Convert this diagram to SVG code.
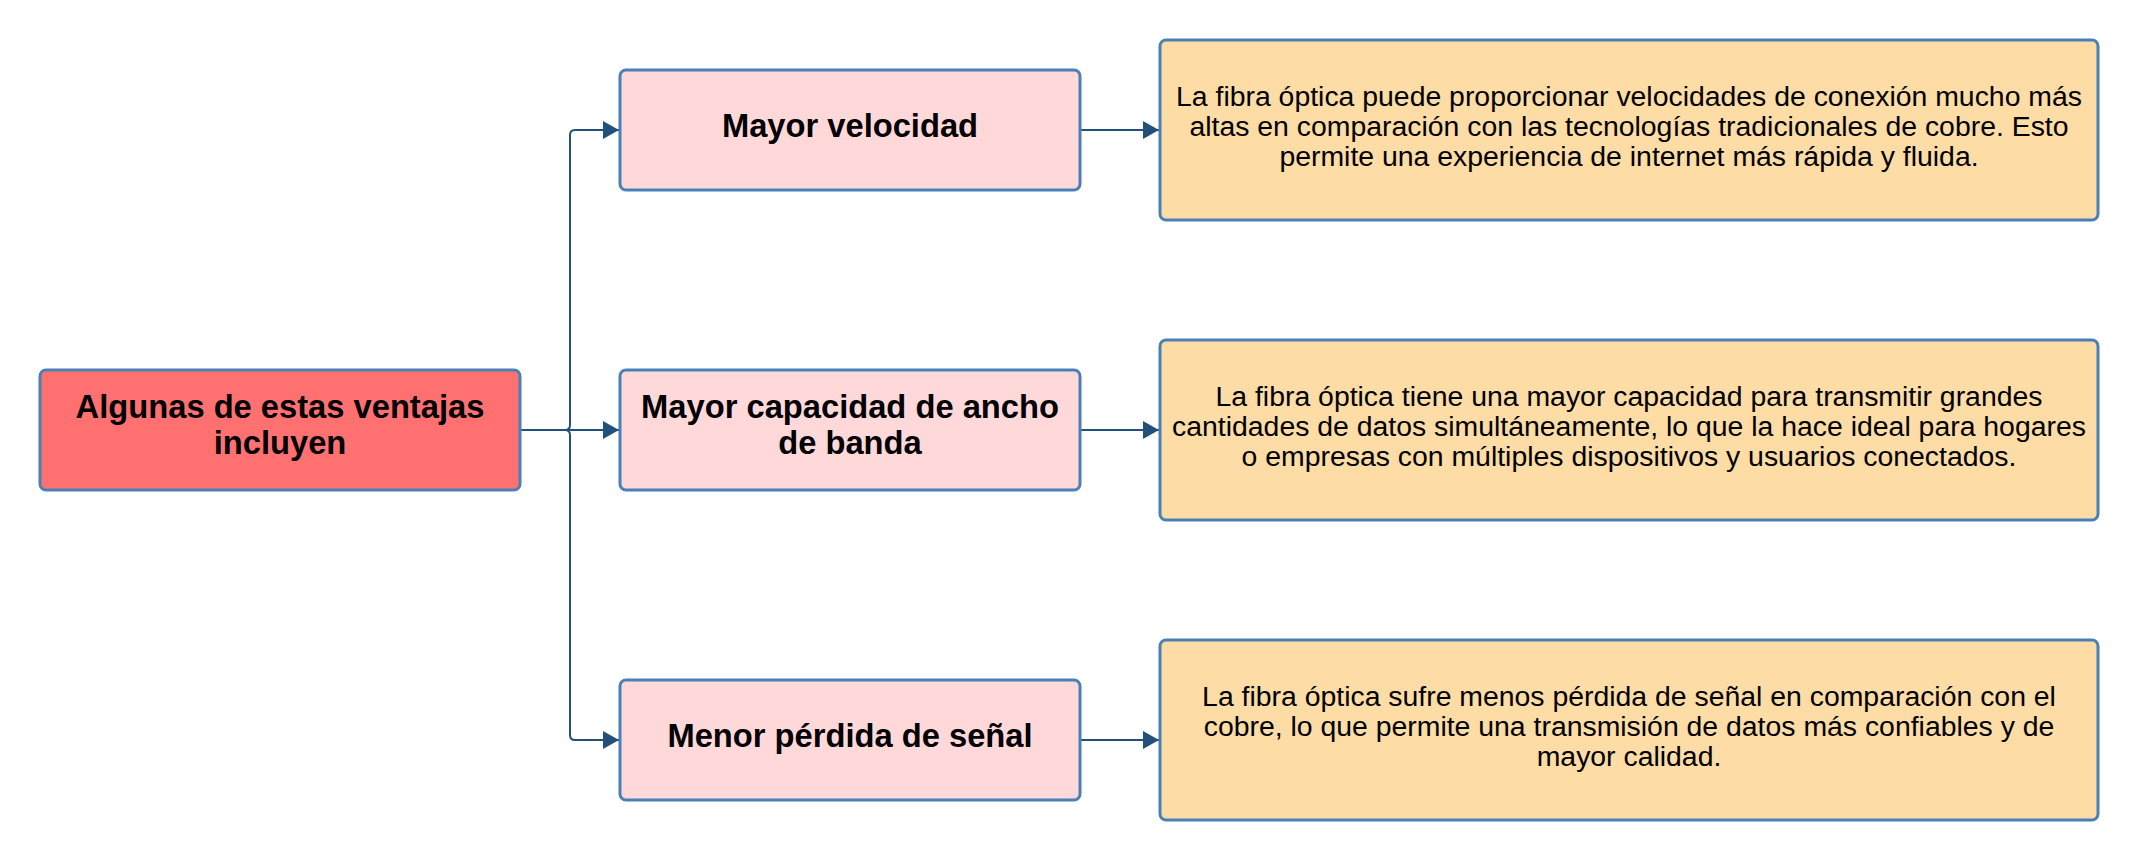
<svg xmlns="http://www.w3.org/2000/svg" width="2139" height="861" viewBox="0 0 2139 861">
<style>
.box{stroke:#4a80b5;stroke-width:3}
.main{fill:#ff7171}
.mid{fill:#ffd9d9}
.det{fill:#fddca6}
.b{font-family:"Liberation Sans",Arial,sans-serif;font-weight:bold;font-size:32.7px;fill:#000;text-anchor:middle}
.t{font-family:"Liberation Sans",Arial,sans-serif;font-size:28.4px;fill:#000;text-anchor:middle}
.c{fill:none;stroke:#23507a;stroke-width:2}
</style>
<defs>
<marker id="ah" markerUnits="userSpaceOnUse" markerWidth="18" markerHeight="20" refX="16" refY="9" orient="auto">
<path d="M0,0 L16,9 L0,18 Z" fill="#23507a"/>
</marker>
</defs>
<rect width="2139" height="861" fill="#ffffff"/>
<g id="connectors">
<path class="c" d="M520,430 H565 Q570,430 570,425 V135 Q570,130 575,130 H619" marker-end="url(#ah)"/>
<path class="c" d="M520,430 H619" marker-end="url(#ah)"/>
<path class="c" d="M520,430 H565 Q570,430 570,435 V735 Q570,740 575,740 H619" marker-end="url(#ah)"/>
<path class="c" d="M1080,130 H1159" marker-end="url(#ah)"/>
<path class="c" d="M1080,430 H1159" marker-end="url(#ah)"/>
<path class="c" d="M1080,740 H1159" marker-end="url(#ah)"/>
</g>
<g id="n-main">
<rect class="box main" x="40" y="370" width="480" height="120" rx="6"/>
<text class="b" x="280" y="418">Algunas de estas ventajas</text>
<text class="b" x="280" y="454">incluyen</text>
</g>
<g id="n-velocidad">
<rect class="box mid" x="620" y="70" width="460" height="120" rx="6"/>
<text class="b" x="850" y="137">Mayor velocidad</text>
</g>
<g id="n-ancho">
<rect class="box mid" x="620" y="370" width="460" height="120" rx="6"/>
<text class="b" x="850" y="418">Mayor capacidad de ancho</text>
<text class="b" x="850" y="454">de banda</text>
</g>
<g id="n-senal">
<rect class="box mid" x="620" y="680" width="460" height="120" rx="6"/>
<text class="b" x="850" y="747">Menor pérdida de señal</text>
</g>
<g id="d-velocidad">
<rect class="box det" x="1160" y="40" width="938" height="180" rx="6"/>
<text class="t" x="1629" y="106">La fibra óptica puede proporcionar velocidades de conexión mucho más</text>
<text class="t" x="1629" y="136">altas en comparación con las tecnologías tradicionales de cobre. Esto</text>
<text class="t" x="1629" y="166">permite una experiencia de internet más rápida y fluida.</text>
</g>
<g id="d-ancho">
<rect class="box det" x="1160" y="340" width="938" height="180" rx="6"/>
<text class="t" x="1629" y="406">La fibra óptica tiene una mayor capacidad para transmitir grandes</text>
<text class="t" x="1629" y="436">cantidades de datos simultáneamente, lo que la hace ideal para hogares</text>
<text class="t" x="1629" y="466">o empresas con múltiples dispositivos y usuarios conectados.</text>
</g>
<g id="d-senal">
<rect class="box det" x="1160" y="640" width="938" height="180" rx="6"/>
<text class="t" x="1629" y="706">La fibra óptica sufre menos pérdida de señal en comparación con el</text>
<text class="t" x="1629" y="736">cobre, lo que permite una transmisión de datos más confiables y de</text>
<text class="t" x="1629" y="766">mayor calidad.</text>
</g>
</svg>
